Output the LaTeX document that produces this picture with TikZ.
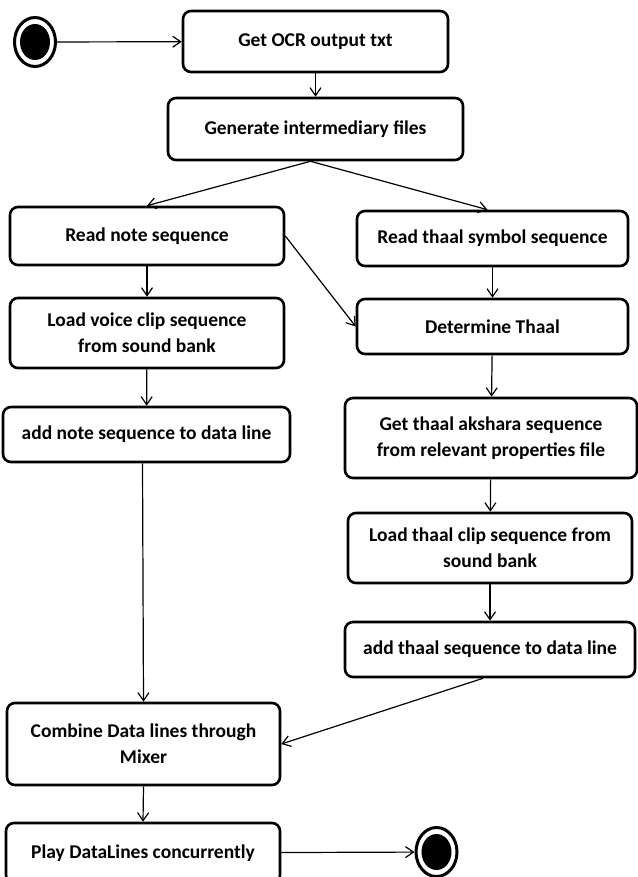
\documentclass[tikz,border=0pt]{standalone}
\usepackage{fontspec}
\setmainfont{Carlito}
\usetikzlibrary{arrows.meta,shapes.geometric}
\tikzset{
  act/.style={draw, rounded corners=8pt, line width=2.6pt, align=center, inner sep=2pt,
    font=\bfseries\fontsize{19.5}{26}\selectfont},
  flow/.style={-{Straight Barb[length=8pt,width=11pt]}, line width=1.2pt},
  term/.style={ellipse, draw, line width=3pt, minimum width=41pt, minimum height=49pt, inner sep=0pt,
    path picture={\fill (path picture bounding box.center) ellipse [x radius=15pt, y radius=18pt];}},
}
\begin{document}
\begin{tikzpicture}[x=1pt,y=-1pt]
  \useasboundingbox (0,0) rectangle (637,877);
  % start and top
  \node[term] (start) at (35,42) {};
  \node[act, minimum width=265pt, minimum height=61pt] (ocr) at (315.5,41.5) {Get OCR output txt};
  \node[act, minimum width=295pt, minimum height=62pt] (gen) at (315.5,129) {Generate intermediary files};
  % note branch
  \node[act, minimum width=274pt, minimum height=58pt] (note) at (147,236) {Read note sequence};
  \node[act, minimum width=274pt, minimum height=70pt] (voice) at (147,333) {Load voice clip sequence\\from sound bank};
  \node[act, minimum width=287pt, minimum height=55pt] (addnote) at (146.5,434.5) {add note sequence to data line};
  % thaal branch
  \node[act, minimum width=271pt, minimum height=55pt] (thsym) at (492.5,238.5) {Read thaal symbol sequence};
  \node[act, minimum width=271pt, minimum height=55pt] (thdet) at (492.5,326.5) {Determine Thaal};
  \node[act, minimum width=292pt, minimum height=80pt] (aksh) at (491,438) {Get thaal akshara sequence\\from relevant properties file};
  \node[act, minimum width=284pt, minimum height=70pt] (thclip) at (490,548) {Load thaal clip sequence from\\sound bank};
  \node[act, minimum width=290pt, minimum height=55pt] (addth) at (490,649.5) {add thaal sequence to data line};
  % merge and finish
  \node[act, minimum width=273pt, minimum height=82pt] (comb) at (143.5,744) {Combine Data lines through\\Mixer};
  \node[act, minimum width=274pt, minimum height=60pt] (play) at (143,853) {Play DataLines concurrently};
  \node[term] (stop) at (436.5,852) {};

  \draw[flow] (start) -- (ocr);
  \draw[flow] (ocr) -- (gen);
  \draw[flow] ([xshift=-5pt]gen.south) -- (note.north);
  \draw[flow] ([xshift=-5pt]gen.south) -- ([xshift=-5pt]thsym.north);
  \draw[flow] (note) -- (voice);
  \draw[flow] (voice) -- (addnote);
  \draw[flow] (note.east) -- (thdet.west);
  \draw[flow] (thsym) -- (thdet);
  \draw[flow] (thdet) -- (aksh);
  \draw[flow] (aksh) -- (thclip);
  \draw[flow] (thclip) -- (addth);
  \draw[flow] ([xshift=-4pt]addnote.south) -- (comb.north);
  \draw[flow] ([xshift=-7pt]addth.south) -- (comb.east);
  \draw[flow] (comb.south) -- (play.north);
  \draw[flow] (play) -- (stop);
\end{tikzpicture}
\end{document}
